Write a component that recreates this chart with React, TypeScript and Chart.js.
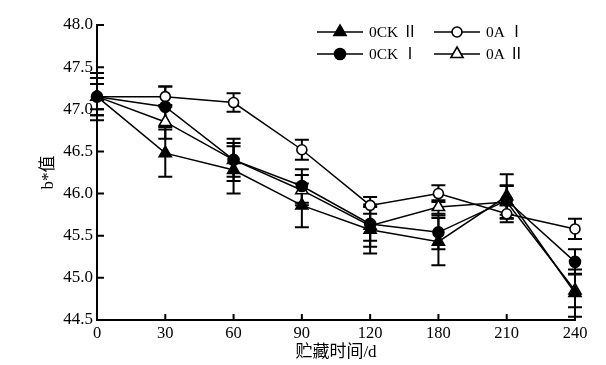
import React, { useEffect, useRef } from "react";
import { Chart, registerables } from "chart.js";

Chart.register(...registerables);

const categories = ["0", "30", "60", "90", "120", "180", "210", "240"];
const seriesNames = ["0CK Ⅱ", "0A Ⅰ", "0CK Ⅰ", "0A Ⅱ"];
const ock2 = [47.15, 46.48, 46.28, 45.86, 45.57, 45.43, 45.97, 44.82];
const oa1 = [47.15, 47.15, 47.08, 46.52, 45.86, 46.0, 45.76, 45.58];
const ock1 = [47.15, 47.03, 46.4, 46.09, 45.64, 45.54, 45.92, 45.19];
const oa2 = [47.15, 46.85, 46.4, 46.04, 45.62, 45.84, 45.9, 44.85];
const ock2Err = [0.28, 0.28, 0.28, 0.26, 0.28, 0.28, 0.26, 0.28];
const oa1Err = [0.22, 0.12, 0.11, 0.12, 0.1, 0.1, 0.1, 0.12];
const ock1Err = [0.22, 0.24, 0.25, 0.2, 0.2, 0.2, 0.17, 0.15];
const oa2Err = [0.15, 0.2, 0.2, 0.18, 0.25, 0.08, 0.2, 0.2];
const yTicks = [44.5, 45.0, 45.5, 46.0, 46.5, 47.0, 47.5, 48.0];

const FONT = "'Liberation Serif', 'Noto Sans CJK SC', serif";

type Marker = { style: "triangle" | "circle"; filled: boolean; r: number };
const markers: Marker[] = [
  { style: "triangle", filled: true, r: 7 },
  { style: "circle", filled: false, r: 5 },
  { style: "circle", filled: true, r: 5.5 },
  { style: "triangle", filled: false, r: 7 },
];
const markerOrder = [3, 1, 0, 2];

function drawMarker(ctx: CanvasRenderingContext2D, m: Marker, x: number, y: number) {
  ctx.save();
  ctx.beginPath();
  if (m.style === "circle") {
    ctx.arc(x, y, m.r, 0, Math.PI * 2);
  } else {
    const r = m.r;
    for (let k = 0; k < 3; k++) {
      const a = (k * 2 * Math.PI) / 3;
      const px = x + Math.sin(a) * r;
      const py = y - Math.cos(a) * r;
      if (k === 0) ctx.moveTo(px, py);
      else ctx.lineTo(px, py);
    }
    ctx.closePath();
  }
  ctx.fillStyle = m.filled ? "#000" : "#fff";
  ctx.fill();
  ctx.lineWidth = 1.6;
  ctx.strokeStyle = "#000";
  ctx.stroke();
  ctx.restore();
}

const errorBarPlugin = {
  id: "errorBars",
  afterDatasetsDraw(chart: any) {
    const ctx = chart.ctx as CanvasRenderingContext2D;
    const ys = chart.scales.y;
    ctx.save();
    ctx.strokeStyle = "#000";
    ctx.lineWidth = 2;
    chart.data.datasets.forEach((ds: any, i: number) => {
      const meta = chart.getDatasetMeta(i);
      meta.data.forEach((pt: any, j: number) => {
        const v = ds.data[j];
        const e = ds.errors[j];
        const t = ys.getPixelForValue(v + e);
        const b = ys.getPixelForValue(v - e);
        ctx.beginPath();
        ctx.moveTo(pt.x, t);
        ctx.lineTo(pt.x, b);
        ctx.moveTo(pt.x - 7, t);
        ctx.lineTo(pt.x + 7, t);
        ctx.moveTo(pt.x - 7, b);
        ctx.lineTo(pt.x + 7, b);
        ctx.stroke();
      });
    });
    ctx.restore();
    markerOrder.forEach((i) => {
      const meta = chart.getDatasetMeta(i);
      meta.data.forEach((pt: any) => drawMarker(ctx, markers[i], pt.x, pt.y));
    });
  },
};

const innerTicksPlugin = {
  id: "innerTicks",
  afterDraw(chart: any) {
    const ctx = chart.ctx as CanvasRenderingContext2D;
    const { left, bottom } = chart.chartArea;
    const xs = chart.scales.x;
    const ys = chart.scales.y;
    ctx.save();
    ctx.strokeStyle = "#000";
    ctx.lineWidth = 2;
    ctx.beginPath();
    yTicks.forEach((v) => {
      const y = ys.getPixelForValue(v);
      ctx.moveTo(left, y);
      ctx.lineTo(left + 7, y);
    });
    categories.forEach((_, i) => {
      const x = xs.getPixelForValue(i);
      ctx.moveTo(x, bottom);
      ctx.lineTo(x, bottom - 6);
    });
    ctx.stroke();
    ctx.restore();
  },
};

const legendPlugin = {
  id: "customLegend",
  afterDraw(chart: any) {
    const ctx = chart.ctx as CanvasRenderingContext2D;
    const pos = [
      [317, 32],
      [434, 32],
      [317, 54],
      [434, 54],
    ];
    ctx.save();
    seriesNames.forEach((name, i) => {
      const [x, y] = pos[i];
      ctx.strokeStyle = "#000";
      ctx.lineWidth = 1.6;
      ctx.beginPath();
      ctx.moveTo(x, y);
      ctx.lineTo(x + 46, y);
      ctx.stroke();
      drawMarker(ctx, markers[i], x + 23, y);
      ctx.fillStyle = "#000";
      ctx.font = `15.5px ${FONT}`;
      ctx.textBaseline = "middle";
      ctx.textAlign = "left";
      ctx.fillText(name, x + 52, y + 1);
    });
    ctx.restore();
  },
};

export default function App() {
  const ref = useRef<HTMLCanvasElement>(null);
  useEffect(() => {
    if (!ref.current) return;
    const series = [ock2, oa1, ock1, oa2];
    const errs = [ock2Err, oa1Err, ock1Err, oa2Err];
    const chart = new Chart(ref.current, {
      type: "line",
      data: {
        labels: categories,
        datasets: series.map((d, i) => ({
          label: seriesNames[i],
          data: d,
          errors: errs[i],
          borderColor: "#000",
          borderWidth: 1.5,
          pointRadius: 0,
          fill: false,
          tension: 0,
        })) as any,
      },
      options: {
        responsive: false,
        animation: false,
        layout: { padding: { left: 0, top: 25, right: 31, bottom: 0 } },
        plugins: { legend: { display: false }, tooltip: { enabled: false } },
        scales: {
          x: {
            type: "category",
            offset: false,
            grid: { display: false, drawTicks: false },
            border: { display: true, color: "#000", width: 2 },
            ticks: {
              color: "#000",
              font: { family: FONT, size: 16.5 },
              padding: 4,
              maxRotation: 0,
              autoSkip: false,
            },
            title: {
              display: true,
              text: "贮藏时间/d",
              color: "#000",
              font: { family: FONT, size: 17 },
              padding: { top: 0, bottom: 2 },
            },
            afterFit: (s: any) => {
              s.height = 45;
            },
          },
          y: {
            min: 44.5,
            max: 48,
            grid: { display: false, drawTicks: false },
            border: { display: true, color: "#000", width: 2 },
            ticks: {
              stepSize: 0.5,
              color: "#000",
              font: { family: FONT, size: 17 },
              padding: 4,
              callback: (v: any) => Number(v).toFixed(1),
            },
            title: {
              display: true,
              text: "b*值",
              color: "#000",
              font: { family: FONT, size: 17 },
              padding: { top: 38, bottom: 0 },
            },
            afterFit: (s: any) => {
              s.width = 97;
            },
          },
        },
      },
      plugins: [errorBarPlugin, innerTicksPlugin, legendPlugin],
    });
    return () => chart.destroy();
  }, []);
  return (
    <div style={{ position: "absolute", left: 0, top: 0, width: 606, height: 365, background: "#fff" }}>
      <canvas ref={ref} width={606} height={365} />
    </div>
  );
}
